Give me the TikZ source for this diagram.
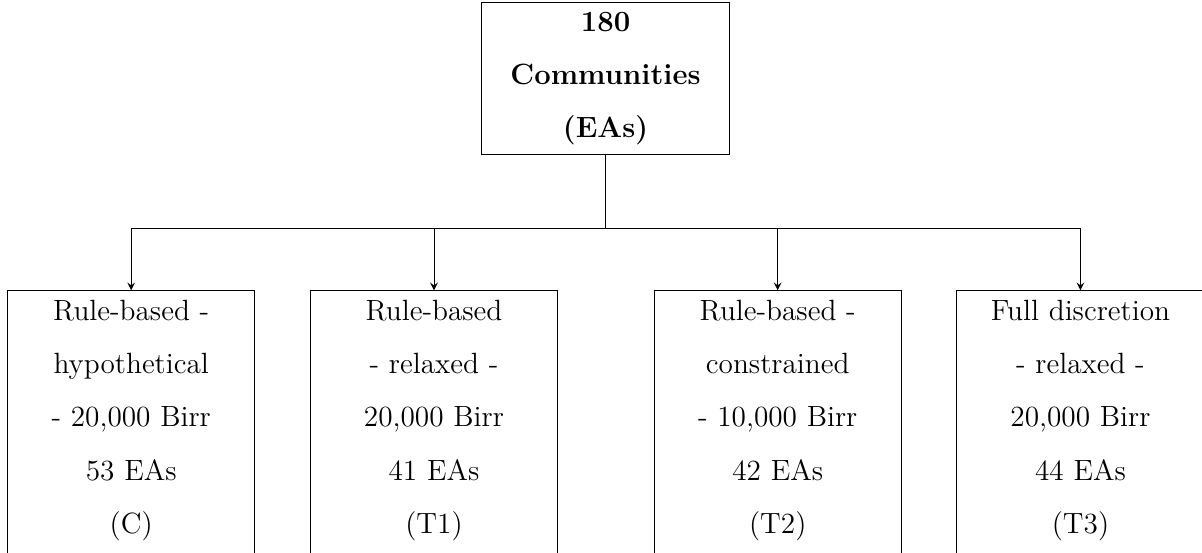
\documentclass[tikz,border=0pt,12pt]{standalone}
\usepackage{tikz}
\usetikzlibrary{calc}

\begin{document}
\begin{tikzpicture}[>=stealth,
  armbox/.style={draw, text width=3.28cm, align=center, anchor=north,
    font=\fontsize{12}{21.75}\selectfont}]
  \useasboundingbox (0,0) rectangle (17.31,-7.96);
  % top: all communities
  \node[armbox, font=\fontsize{12}{21.75}\selectfont\bfseries] (all) at (8.72,-0.03)
    {180\\ Communities\\ (EAs)};
  % bottom: the four arms (cut off below)
  \node[armbox, text depth=3.6cm] (ctrl) at (1.89,-4.18)
    {Rule-based -\\ hypothetical\\ - 20,000 Birr\\ 53 EAs\\ (C)};
  \node[armbox, text depth=3.6cm] (tone) at (6.25,-4.18)
    {Rule-based\\ - relaxed -\\ 20,000 Birr\\ 41 EAs\\ (T1)};
  \node[armbox, text depth=3.6cm] (ttwo) at (11.20,-4.18)
    {Rule-based -\\ constrained\\ - 10,000 Birr\\ 42 EAs\\ (T2)};
  \node[armbox, text depth=3.6cm] (tthree) at (15.56,-4.18)
    {Full discretion\\ - relaxed -\\ 20,000 Birr\\ 44 EAs\\ (T3)};
  % split into arms
  \coordinate (split) at ($(all.south)+(0,-1.05)$);
  \draw[thick] (all.south) -- (split);
  \draw (split -| ctrl) -- (split -| tthree);
  \foreach \arm in {ctrl,tone,ttwo,tthree}
    \draw[->] (split -| \arm) -- (\arm);
\end{tikzpicture}
\end{document}
